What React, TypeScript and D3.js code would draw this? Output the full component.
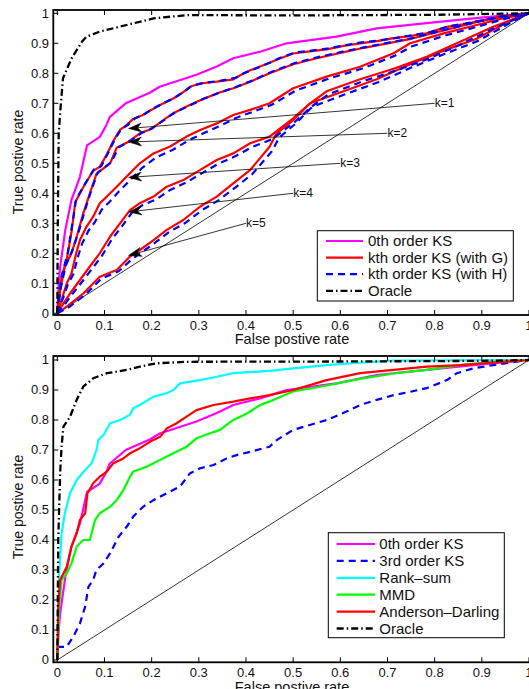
import React from 'react';
import * as d3 from 'd3';

type Pt = [number, number];

const xTickValues = [0, 0.1, 0.2, 0.3, 0.4, 0.5, 0.6, 0.7, 0.8, 0.9, 1];
const yTickValues = [0, 0.1, 0.2, 0.3, 0.4, 0.5, 0.6, 0.7, 0.8, 0.9, 1];
const tickLabels = ['0', '0.1', '0.2', '0.3', '0.4', '0.5', '0.6', '0.7', '0.8', '0.9', '1'];

const xAxisTitle = 'False postive rate';
const yAxisTitle = 'True postive rate';

// Oracle (both panels)
const oracleTop: Pt[] = [[0, 0], [0.001, 0.3], [0.003, 0.6], [0.006, 0.667], [0.012, 0.783], [0.03, 0.849], [0.052, 0.905], [0.062, 0.922], [0.09, 0.939], [0.147, 0.961], [0.204, 0.983], [0.275, 0.994], [0.5, 0.993], [0.8, 0.995], [1, 1]];
const oracleBottom: Pt[] = [[0, 0], [0.002, 0.4], [0.006, 0.622], [0.009, 0.711], [0.013, 0.778], [0.027, 0.811], [0.041, 0.867], [0.055, 0.911], [0.076, 0.939], [0.105, 0.956], [0.147, 0.967], [0.175, 0.978], [0.211, 0.989], [0.274, 0.994], [0.6, 0.995], [0.9, 0.997], [1, 1]];

// 0th order KS (same curve in both panels)
const ks0: Pt[] = [[0, 0], [0.003, 0.1], [0.006, 0.155], [0.017, 0.278], [0.03, 0.378], [0.048, 0.455], [0.063, 0.56], [0.09, 0.588], [0.104, 0.627], [0.111, 0.654], [0.145, 0.7], [0.196, 0.735], [0.217, 0.755], [0.295, 0.795], [0.338, 0.823], [0.373, 0.85], [0.43, 0.872], [0.486, 0.9], [0.592, 0.922], [0.677, 0.95], [0.783, 0.967], [0.882, 0.983], [0.98, 0.998], [1, 1]];

// kth order KS (with G), k = 1..5
const k1G: Pt[] = [[0, 0], [0.002, 0.04], [0.009, 0.12], [0.02, 0.18], [0.03, 0.27], [0.038, 0.37], [0.055, 0.42], [0.076, 0.475], [0.09, 0.488], [0.105, 0.53], [0.119, 0.575], [0.133, 0.612], [0.145, 0.625], [0.161, 0.648], [0.18, 0.66], [0.197, 0.676], [0.218, 0.694], [0.246, 0.716], [0.265, 0.735], [0.281, 0.755], [0.303, 0.766], [0.338, 0.772], [0.373, 0.78], [0.39, 0.795], [0.409, 0.81], [0.45, 0.835], [0.465, 0.845], [0.5, 0.866], [0.53, 0.872], [0.571, 0.88], [0.61, 0.892], [0.642, 0.9], [0.68, 0.908], [0.713, 0.917], [0.75, 0.925], [0.783, 0.933], [0.826, 0.955], [0.86, 0.963], [0.889, 0.972], [0.939, 0.99], [1, 1]];
const k2G: Pt[] = [[0, 0], [0.006, 0.078], [0.016, 0.156], [0.03, 0.2], [0.042, 0.26], [0.055, 0.333], [0.069, 0.4], [0.083, 0.465], [0.098, 0.483], [0.112, 0.5], [0.126, 0.552], [0.151, 0.572], [0.175, 0.6], [0.195, 0.612], [0.211, 0.628], [0.23, 0.65], [0.246, 0.667], [0.274, 0.689], [0.303, 0.71], [0.338, 0.733], [0.373, 0.75], [0.409, 0.772], [0.45, 0.8], [0.5, 0.83], [0.55, 0.85], [0.6, 0.868], [0.65, 0.885], [0.7, 0.9], [0.75, 0.915], [0.8, 0.935], [0.85, 0.955], [0.9, 0.975], [0.95, 0.99], [1, 1]];
const k3G: Pt[] = [[0, 0], [0.009, 0.044], [0.02, 0.1], [0.03, 0.133], [0.04, 0.2], [0.048, 0.244], [0.062, 0.289], [0.076, 0.322], [0.09, 0.367], [0.105, 0.389], [0.126, 0.422], [0.147, 0.456], [0.175, 0.5], [0.204, 0.533], [0.239, 0.556], [0.274, 0.589], [0.303, 0.611], [0.338, 0.633], [0.373, 0.661], [0.409, 0.678], [0.45, 0.7], [0.5, 0.75], [0.571, 0.789], [0.642, 0.822], [0.713, 0.867], [0.748, 0.9], [0.819, 0.933], [0.889, 0.961], [0.95, 0.985], [1, 1]];
const k4G: Pt[] = [[0, 0], [0.013, 0.033], [0.027, 0.066], [0.048, 0.111], [0.069, 0.156], [0.09, 0.2], [0.112, 0.256], [0.133, 0.3], [0.154, 0.344], [0.175, 0.367], [0.204, 0.389], [0.232, 0.422], [0.267, 0.444], [0.303, 0.478], [0.338, 0.511], [0.373, 0.533], [0.409, 0.567], [0.45, 0.589], [0.5, 0.65], [0.536, 0.7], [0.571, 0.74], [0.642, 0.78], [0.713, 0.815], [0.783, 0.855], [0.854, 0.905], [0.924, 0.955], [1, 1]];
const k5G: Pt[] = [[0, 0], [0.02, 0.022], [0.055, 0.066], [0.09, 0.122], [0.126, 0.144], [0.154, 0.189], [0.175, 0.211], [0.204, 0.244], [0.232, 0.278], [0.267, 0.311], [0.303, 0.356], [0.338, 0.389], [0.373, 0.433], [0.409, 0.478], [0.45, 0.555], [0.465, 0.6], [0.5, 0.644], [0.536, 0.7], [0.607, 0.74], [0.677, 0.78], [0.748, 0.83], [0.819, 0.875], [0.889, 0.915], [0.96, 0.975], [1, 1]];

// kth order KS (with H), k = 1..5
const k1H: Pt[] = [[0, 0], [0.003, 0.05], [0.01, 0.13], [0.022, 0.2], [0.032, 0.3], [0.04, 0.38], [0.058, 0.43], [0.078, 0.48], [0.093, 0.49], [0.108, 0.535], [0.122, 0.58], [0.136, 0.615], [0.15, 0.628], [0.165, 0.65], [0.185, 0.664], [0.2, 0.68], [0.222, 0.698], [0.25, 0.72], [0.27, 0.74], [0.285, 0.758], [0.31, 0.768], [0.345, 0.775], [0.378, 0.785], [0.395, 0.8], [0.415, 0.812], [0.455, 0.838], [0.47, 0.85], [0.505, 0.87], [0.535, 0.875], [0.575, 0.883], [0.615, 0.895], [0.645, 0.903], [0.685, 0.91], [0.72, 0.918], [0.755, 0.928], [0.79, 0.937], [0.83, 0.957], [0.865, 0.966], [0.895, 0.975], [0.94, 0.99], [1, 1]];
const k2H: Pt[] = [[0, 0], [0.008, 0.09], [0.018, 0.16], [0.032, 0.21], [0.045, 0.27], [0.058, 0.34], [0.072, 0.41], [0.086, 0.47], [0.1, 0.486], [0.115, 0.505], [0.13, 0.553], [0.155, 0.575], [0.18, 0.602], [0.2, 0.615], [0.215, 0.632], [0.235, 0.654], [0.25, 0.67], [0.28, 0.692], [0.31, 0.715], [0.345, 0.736], [0.38, 0.755], [0.415, 0.777], [0.455, 0.805], [0.505, 0.835], [0.555, 0.855], [0.605, 0.872], [0.655, 0.888], [0.705, 0.903], [0.755, 0.918], [0.805, 0.938], [0.855, 0.958], [0.905, 0.977], [0.95, 0.99], [1, 1]];
const k3H: Pt[] = [[0, 0], [0.012, 0.05], [0.022, 0.095], [0.034, 0.13], [0.044, 0.19], [0.052, 0.23], [0.066, 0.275], [0.08, 0.305], [0.094, 0.345], [0.11, 0.37], [0.13, 0.405], [0.152, 0.44], [0.18, 0.485], [0.21, 0.52], [0.245, 0.545], [0.28, 0.578], [0.31, 0.6], [0.345, 0.625], [0.38, 0.652], [0.415, 0.672], [0.455, 0.695], [0.505, 0.742], [0.575, 0.782], [0.645, 0.815], [0.715, 0.858], [0.752, 0.89], [0.82, 0.925], [0.89, 0.955], [0.95, 0.982], [1, 1]];
const k4H: Pt[] = [[0, 0], [0.016, 0.03], [0.03, 0.06], [0.05, 0.1], [0.072, 0.145], [0.094, 0.19], [0.115, 0.245], [0.137, 0.29], [0.158, 0.335], [0.18, 0.36], [0.21, 0.38], [0.238, 0.41], [0.272, 0.435], [0.308, 0.468], [0.343, 0.5], [0.378, 0.524], [0.414, 0.555], [0.455, 0.58], [0.505, 0.64], [0.54, 0.69], [0.575, 0.73], [0.645, 0.772], [0.716, 0.808], [0.786, 0.848], [0.857, 0.898], [0.926, 0.95], [1, 1]];
const k5H: Pt[] = [[0, 0], [0.024, 0.02], [0.058, 0.06], [0.093, 0.115], [0.13, 0.14], [0.158, 0.18], [0.18, 0.205], [0.208, 0.236], [0.236, 0.27], [0.272, 0.302], [0.308, 0.345], [0.343, 0.378], [0.378, 0.42], [0.414, 0.465], [0.455, 0.54], [0.47, 0.585], [0.505, 0.632], [0.54, 0.688], [0.61, 0.73], [0.68, 0.77], [0.752, 0.82], [0.822, 0.865], [0.892, 0.908], [0.962, 0.97], [1, 1]];

// Bottom panel
const ks3: Pt[] = [[0, 0], [0.002, 0.044], [0.02, 0.044], [0.034, 0.078], [0.048, 0.122], [0.059, 0.178], [0.066, 0.244], [0.076, 0.267], [0.083, 0.3], [0.098, 0.322], [0.112, 0.356], [0.13, 0.411], [0.147, 0.444], [0.161, 0.478], [0.182, 0.511], [0.204, 0.533], [0.232, 0.556], [0.26, 0.578], [0.281, 0.622], [0.303, 0.639], [0.331, 0.65], [0.359, 0.672], [0.38, 0.683], [0.409, 0.694], [0.45, 0.711], [0.465, 0.733], [0.5, 0.767], [0.571, 0.8], [0.613, 0.828], [0.642, 0.85], [0.677, 0.867], [0.713, 0.883], [0.748, 0.894], [0.783, 0.906], [0.826, 0.933], [0.847, 0.956], [0.882, 0.972], [0.924, 0.983], [0.96, 0.991], [1, 1]];
const rankSum: Pt[] = [[0, 0], [0.004, 0.289], [0.009, 0.422], [0.016, 0.489], [0.027, 0.556], [0.041, 0.6], [0.059, 0.633], [0.073, 0.656], [0.083, 0.7], [0.087, 0.733], [0.098, 0.75], [0.112, 0.789], [0.133, 0.8], [0.154, 0.817], [0.161, 0.839], [0.175, 0.85], [0.204, 0.878], [0.232, 0.889], [0.246, 0.9], [0.26, 0.922], [0.303, 0.933], [0.338, 0.944], [0.373, 0.956], [0.45, 0.964], [0.5, 0.972], [0.571, 0.983], [0.642, 0.991], [0.713, 0.998], [1, 1]];
const mmd: Pt[] = [[0, 0], [0.004, 0.178], [0.009, 0.267], [0.02, 0.289], [0.03, 0.322], [0.041, 0.378], [0.055, 0.4], [0.069, 0.4], [0.08, 0.467], [0.09, 0.489], [0.112, 0.511], [0.126, 0.533], [0.14, 0.567], [0.154, 0.611], [0.161, 0.628], [0.189, 0.644], [0.218, 0.667], [0.246, 0.689], [0.274, 0.711], [0.295, 0.739], [0.324, 0.756], [0.345, 0.767], [0.373, 0.8], [0.402, 0.822], [0.43, 0.85], [0.45, 0.862], [0.5, 0.895], [0.571, 0.915], [0.642, 0.937], [0.713, 0.955], [0.783, 0.967], [0.854, 0.983], [0.924, 0.994], [1, 1]];
const andersonDarling: Pt[] = [[0, 0], [0.002, 0.178], [0.006, 0.267], [0.02, 0.311], [0.03, 0.378], [0.041, 0.422], [0.048, 0.467], [0.059, 0.489], [0.064, 0.556], [0.076, 0.589], [0.09, 0.611], [0.105, 0.628], [0.119, 0.656], [0.14, 0.672], [0.154, 0.689], [0.175, 0.706], [0.197, 0.728], [0.218, 0.744], [0.232, 0.772], [0.253, 0.789], [0.274, 0.811], [0.295, 0.833], [0.331, 0.85], [0.373, 0.861], [0.409, 0.872], [0.45, 0.883], [0.5, 0.9], [0.571, 0.933], [0.642, 0.956], [0.713, 0.967], [0.783, 0.978], [0.854, 0.983], [0.924, 0.991], [1, 1]];

const arrowTipsX = [0.151, 0.151, 0.151, 0.151, 0.151];
const arrowTipsY = [0.616, 0.571, 0.453, 0.338, 0.193];
const arrowTailX = [0.8, 0.7, 0.6, 0.5, 0.4];
const arrowTailY = [0.7, 0.6, 0.5, 0.4, 0.3];
const arrowLabels = ['k=1', 'k=2', 'k=3', 'k=4', 'k=5'];

const topLegend = ['0th order KS', 'kth order KS (with G)', 'kth order KS (with H)', 'Oracle'];
const bottomLegend = ['0th order KS', '3rd order KS', 'Rank\u2013sum', 'MMD', 'Anderson\u2013Darling', 'Oracle'];

const FONT = "'Liberation Sans', Arial, Helvetica, sans-serif";
const TEXT_FILL = '#111';

type Style = { color: string; dash?: string; width: number };
const S_MAG: Style = { color: '#ff00ff', width: 2.2 };
const S_RED: Style = { color: '#ff0000', width: 2.2 };
const S_BLUE: Style = { color: '#0000ff', width: 2.2, dash: '7,5' };
const S_CYAN: Style = { color: '#00ffff', width: 2.2 };
const S_GREEN: Style = { color: '#00ff00', width: 2.2 };
const S_ORACLE: Style = { color: '#000000', width: 2.3, dash: '7,3,1.5,3' };

const X_RANGE: [number, number] = [53.3, 533];
const X_DOMAIN: [number, number] = [-0.0085, 1.0085];

function Panel(props: {
  yRange: [number, number];
  yDomain: [number, number];
  series: { data: Pt[]; style: Style }[];
  legend: string[];
  legendStyles: Style[];
  legendBox: { x: number; y: number; w: number; h: number; rowY0: number; rowDy: number; lineX0: number; lineX1: number; textX: number };
  xTitleY: number;
  yTitleY: number;
  children?: React.ReactNode;
  id: string;
}) {
  const x = d3.scaleLinear().domain(X_DOMAIN).range(X_RANGE);
  const y = d3.scaleLinear().domain(props.yDomain).range(props.yRange);
  const line = d3.line<Pt>().x((d) => x(d[0])).y((d) => y(d[1]));
  const [yb, yt] = props.yRange;
  const lb = props.legendBox;
  return (
    <g>
      <defs>
        <clipPath id={props.id}>
          <rect x={X_RANGE[0]} y={yt} width={X_RANGE[1] - X_RANGE[0]} height={yb - yt} />
        </clipPath>
      </defs>
      <g clipPath={`url(#${props.id})`}>
        <line x1={x(0)} y1={y(0)} x2={x(1)} y2={y(1)} stroke="#000" strokeWidth={0.8} />
        {props.series.map((s, i) => (
          <path key={i} d={line(s.data) || ''} fill="none" stroke={s.style.color} strokeWidth={s.style.width} strokeDasharray={s.style.dash} strokeLinejoin="round" />
        ))}
      </g>
      {props.children}
      {xTickValues.map((v, i) => (
        <g key={'xt' + i}>
          <line x1={x(v)} x2={x(v)} y1={yb} y2={yb - 5} stroke="#000" strokeWidth={1} />
          <line x1={x(v)} x2={x(v)} y1={yt} y2={yt + 5} stroke="#000" strokeWidth={1} />
          <text x={x(v)} y={yb + 14.5} fontSize={13} fontFamily={FONT} textAnchor="middle" fill={TEXT_FILL}>{tickLabels[i]}</text>
        </g>
      ))}
      {yTickValues.map((v, i) => (
        <g key={'yt' + i}>
          <line x1={X_RANGE[0]} x2={X_RANGE[0] + 5} y1={y(v)} y2={y(v)} stroke="#000" strokeWidth={1} />
          <text x={49} y={y(v) + 4.5} fontSize={13} fontFamily={FONT} textAnchor="end" fill={TEXT_FILL}>{tickLabels[i]}</text>
        </g>
      ))}
      <rect x={X_RANGE[0]} y={yt} width={X_RANGE[1] - X_RANGE[0]} height={yb - yt} fill="none" stroke="#000" strokeWidth={1.8} />
      <text x={292} y={props.xTitleY} fontSize={14.5} fontFamily={FONT} textAnchor="middle" fill={TEXT_FILL}>{xAxisTitle}</text>
      <text transform={`translate(23,${props.yTitleY}) rotate(-90)`} fontSize={14} fontFamily={FONT} textAnchor="middle" fill={TEXT_FILL}>{yAxisTitle}</text>
      <rect x={lb.x} y={lb.y} width={lb.w} height={lb.h} fill="#fff" stroke="#000" strokeWidth={1} />
      {props.legend.map((t, i) => {
        const ry = lb.rowY0 + i * lb.rowDy;
        const st = props.legendStyles[i];
        return (
          <g key={'lg' + i}>
            <line x1={lb.lineX0} x2={lb.lineX1} y1={ry} y2={ry} stroke={st.color} strokeWidth={st.width} strokeDasharray={st.dash} />
            <text x={lb.textX} y={ry + 5.2} fontSize={15} fontFamily={FONT} fill={TEXT_FILL}>{t}</text>
          </g>
        );
      })}
    </g>
  );
}

export default function App() {
  const topYDomain: [number, number] = [-0.0057, 1.011];
  const topYRange: [number, number] = [315, 10];
  const botYDomain: [number, number] = [-0.0077, 1.0133];
  const botYRange: [number, number] = [662.3, 356];

  const x = d3.scaleLinear().domain(X_DOMAIN).range(X_RANGE);
  const yTop = d3.scaleLinear().domain(topYDomain).range(topYRange);

  const gSeries = [k1G, k2G, k3G, k4G, k5G];
  const hSeries = [k1H, k2H, k3H, k4H, k5H];

  const topSeries = [
    { data: ks0, style: S_MAG },
    ...gSeries.map((d) => ({ data: d, style: S_RED })),
    ...hSeries.map((d) => ({ data: d, style: S_BLUE })),
    { data: oracleTop, style: S_ORACLE },
  ];
  const bottomSeries = [
    { data: ks0, style: S_MAG },
    { data: ks3, style: S_BLUE },
    { data: rankSum, style: S_CYAN },
    { data: mmd, style: S_GREEN },
    { data: andersonDarling, style: S_RED },
    { data: oracleBottom, style: S_ORACLE },
  ];

  const arrows = arrowLabels.map((lab, i) => {
    const tx = x(arrowTipsX[i]);
    const ty = yTop(arrowTipsY[i]);
    const sx = x(arrowTailX[i]);
    const sy = yTop(arrowTailY[i]);
    const ang = Math.atan2(ty - sy, tx - sx);
    const L = 13, Wd = 4.5, notch = 9;
    const ux = Math.cos(ang), uy = Math.sin(ang);
    const px = -uy, py = ux;
    const bx = tx - ux * L, by = ty - uy * L;
    const nx = tx - ux * notch, ny = ty - uy * notch;
    const head = `M${tx},${ty} L${bx + px * Wd},${by + py * Wd} L${nx},${ny} L${bx - px * Wd},${by - py * Wd} Z`;
    return (
      <g key={'ar' + i}>
        <line x1={sx} y1={sy} x2={nx} y2={ny} stroke="#000" strokeWidth={0.8} />
        <path d={head} fill="#000" stroke="#000" strokeWidth={0.5} />
        <text x={sx} y={sy + 4.2} fontSize={12} fontFamily={FONT} fill={TEXT_FILL}>{lab}</text>
      </g>
    );
  });

  return (
    <svg width={529} height={689} style={{ position: 'absolute', left: 0, top: 0, background: '#fff' }}>
      <rect x={0} y={0} width={529} height={689} fill="#fff" />
      <Panel
        id="clipTop"
        yRange={topYRange}
        yDomain={topYDomain}
        series={topSeries}
        legend={topLegend}
        legendStyles={[S_MAG, S_RED, S_BLUE, S_ORACLE]}
        legendBox={{ x: 317.3, y: 230.7, w: 196, h: 70.3, rowY0: 241, rowDy: 16.6, lineX0: 326, lineX1: 363, textX: 368 }}
        xTitleY={344}
        yTitleY={162}
      >
        {arrows}
      </Panel>
      <Panel
        id="clipBot"
        yRange={botYRange}
        yDomain={botYDomain}
        series={bottomSeries}
        legend={bottomLegend}
        legendStyles={[S_MAG, S_BLUE, S_CYAN, S_GREEN, S_RED, S_ORACLE]}
        legendBox={{ x: 328.3, y: 532.7, w: 176, h: 105, rowY0: 544, rowDy: 16.9, lineX0: 336.7, lineX1: 375, textX: 379.3 }}
        xTitleY={692}
        yTitleY={507}
      />
    </svg>
  );
}
